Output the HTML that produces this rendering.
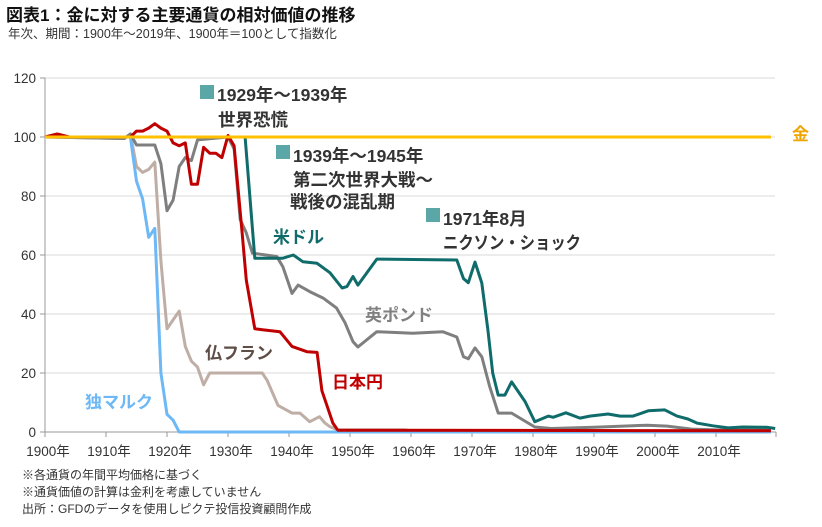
<!DOCTYPE html>
<html><head><meta charset="utf-8">
<style>
body{margin:0;background:#fff;width:822px;height:522px;overflow:hidden;font-family:"Liberation Sans","Noto Sans CJK JP",sans-serif;}
svg text{font-family:"Liberation Sans","Noto Sans CJK JP",sans-serif;}
</style></head>
<body>
<svg id="chart" width="822" height="522">
<text x="6" y="21" font-size="17" font-weight="bold" fill="#111">図表1：金に対する主要通貨の相対価値の推移</text>
<text x="8" y="38" font-size="12.5" fill="#333">年次、期間：1900年～2019年、1900年＝100として指数化</text>
<g id="grid"></g><g id="axes"></g><g id="series"></g>
<g>
<rect x="200" y="85" width="14" height="14" fill="#5ba6a6"/>
<text x="217" y="101" font-size="17.5" font-weight="bold" fill="#333">1929年～1939年</text>
<text x="218" y="126" font-size="17.5" font-weight="bold" fill="#333">世界恐慌</text></g>
<g>
<rect x="276" y="145" width="14" height="14" fill="#5ba6a6"/>
<text x="293" y="162" font-size="17.5" font-weight="bold" fill="#333">1939年～1945年</text>
<text x="293" y="186" font-size="17.5" font-weight="bold" fill="#333">第二次世界大戦～</text>
<text x="290" y="208" font-size="17.5" font-weight="bold" fill="#333">戦後の混乱期</text></g>
<g>
<rect x="426" y="208" width="14" height="14" fill="#5ba6a6"/>
<text x="443" y="225" font-size="17.5" font-weight="bold" fill="#333">1971年8月</text>
<text x="443" y="249" font-size="17.5" font-weight="bold" fill="#333" textLength="138" lengthAdjust="spacingAndGlyphs">ニクソン・ショック</text></g>
<text x="273" y="243" font-size="17" font-weight="bold" fill="#106b6b">米ドル</text>
<text x="365" y="321" font-size="17" font-weight="bold" fill="#808080">英ポンド</text>
<text x="205" y="359" font-size="17" font-weight="bold" fill="#5e4e46">仏フラン</text>
<text x="332" y="388" font-size="17" font-weight="bold" fill="#c00000">日本円</text>
<text x="85" y="408" font-size="17" font-weight="bold" fill="#6db8f5">独マルク</text>
<text x="792" y="140" font-size="17" font-weight="bold" fill="#f0a500">金</text>
<text x="22" y="479" font-size="12" fill="#333">※各通貨の年間平均価格に基づく</text>
<text x="22" y="496" font-size="12" fill="#333">※通貨価値の計算は金利を考慮していません</text>
<text x="22" y="513" font-size="12" fill="#333">出所：GFDのデータを使用しピクテ投信投資顧問作成</text>
</svg>
<script>
const yTicks=[0,20,40,60,80,100,120];
const xTickYears=[1900,1910,1920,1930,1940,1950,1960,1970,1980,1990,2000,2010];
const goldYears=[1900,2019];
const goldVals=[100,100];
const demYears=[1900,1914,1915,1916,1917,1918,1919,1920,1921,1922,2019];
const demVals=[100,100,85,79,66,69,20,6,4,0,0];
const frfYears=[1900,1913,1914,1915,1916,1917,1918,1919,1920,1921,1922,1923,1924,1925,1926,1927,1935.6,1936.4,1938.2,1940.5,1941.8,1943.4,1945,1945.9,1946.7,1948,1959,1960,2019];
const frfVals=[100,99.5,101,90,88,89,91.5,58,35,38,41,29,24,22,16,20,20,17.6,9,6.4,6.4,3.5,5.2,3,1.8,0.7,0.7,0.3,0.3];
const gbpYears=[1900,1913,1914,1915,1918,1919,1920,1921,1922,1923,1924,1925,1930,1931,1932,1933,1934,1938,1939,1940.5,1941.5,1943.4,1945.6,1947.8,1949.2,1950.5,1951.3,1954.4,1960.3,1965.2,1967.5,1968.6,1969.4,1970.5,1971.6,1972.9,1974.3,1976.5,1980.3,1983,1990,1998.7,2002,2006,2010,2019];
const gbpVals=[100,99.5,101,97.3,97.3,91,75,78.6,90,93,92,99,100,96,72,67.5,60.6,59.5,56,47,49.8,47.6,45.4,42,37,30.6,28.8,34,33.5,34,32.2,25.5,24.8,28.5,25.5,15.4,6.4,6.4,1.7,1.2,1.6,2.3,2,1,0.7,0.7];
const jpyYears=[1900,1902,1903,1904,1914,1915,1916,1917,1918,1919,1920,1921,1922,1923,1924,1925,1926,1927,1928,1929,1930,1931,1932.3,1933,1934.4,1935.8,1938.5,1940.5,1943,1944.6,1945.4,1947.2,1948,2019];
const jpyVals=[100,101,100.5,100,100,102,102,103,104.5,103,102,98,97,98,84,84,96.5,94.5,94.5,93,100.5,97,68,51.5,35,34.6,34,29,27.2,27,14,3,0.6,0.4];
const usdYears=[1900,1932.8,1934.4,1939,1940.7,1942.3,1944.6,1946.7,1948.7,1949.5,1950.5,1951.3,1954.4,1967.5,1968.6,1969.4,1970.5,1971.6,1972.6,1973.4,1974.3,1975.4,1976.5,1978.7,1980.3,1982.5,1983.3,1985.4,1987.7,1989.3,1992.3,1994.3,1996.4,1998.9,2001.6,2003.6,2005.4,2006.9,2009.5,2012,2014.4,2018.4,2019.7];
const usdVals=[100,100,58.9,58.9,60,57.7,57.2,54,48.8,49.3,52.7,49.8,58.6,58.3,52,50.6,57.6,50.5,34.6,20,12.5,12.5,17,10.3,3.5,5.4,5,6.5,4.7,5.4,6.1,5.4,5.4,7.2,7.5,5.4,4.4,3,2.1,1.4,1.7,1.6,1.2];

const NS="http://www.w3.org/2000/svg";
const x0=45,pxYear=6.1,y0=432,pxVal=2.95;
function xs(yr){return x0+(yr-1900)*pxYear;}
function ys(v){return y0-v*pxVal;}
const grid=document.getElementById('grid'),axes=document.getElementById('axes'),ser=document.getElementById('series');
yTicks.forEach(t=>{
  if(t>0){const l=document.createElementNS(NS,'line');
  l.setAttribute('x1',x0);l.setAttribute('x2',775);l.setAttribute('y1',ys(t));l.setAttribute('y2',ys(t));
  l.setAttribute('stroke','#d9d9d9');l.setAttribute('stroke-width','1');
  
  
  grid.appendChild(l);}
  const tk=document.createElementNS(NS,'line');
  tk.setAttribute('x1',x0-5);tk.setAttribute('x2',x0);tk.setAttribute('y1',ys(t));tk.setAttribute('y2',ys(t));tk.setAttribute('stroke','#999');
  
  
  axes.appendChild(tk);
  const tx=document.createElementNS(NS,'text');
  tx.setAttribute('x',36);tx.setAttribute('y',ys(t)+5);tx.setAttribute('text-anchor','end');tx.setAttribute('font-size','13.5');tx.setAttribute('fill','#333');
  tx.textContent=t;
  
  
  axes.appendChild(tx);
});
const ya=document.createElementNS(NS,'line');
ya.setAttribute('x1',x0);ya.setAttribute('x2',x0);ya.setAttribute('y1',ys(120));ya.setAttribute('y2',y0);ya.setAttribute('stroke','#999');


axes.appendChild(ya);
const xa=document.createElementNS(NS,'line');
xa.setAttribute('x1',x0);xa.setAttribute('x2',776);xa.setAttribute('y1',y0);xa.setAttribute('y2',y0);xa.setAttribute('stroke','#999');


axes.appendChild(xa);
xTickYears.forEach(yr=>{
  const tk=document.createElementNS(NS,'line');
  tk.setAttribute('x1',xs(yr));tk.setAttribute('x2',xs(yr));tk.setAttribute('y1',y0);tk.setAttribute('y2',y0+5);tk.setAttribute('stroke','#999');
  
  
  axes.appendChild(tk);
  const tx=document.createElementNS(NS,'text');
  tx.setAttribute('x',xs(yr)+3);tx.setAttribute('y',y0+24);tx.setAttribute('text-anchor','middle');tx.setAttribute('font-size','13.5');tx.setAttribute('fill','#333');
  tx.textContent=yr+'年';
  
  
  axes.appendChild(tx);
});
const endTk=document.createElementNS(NS,'line');
endTk.setAttribute('x1',776);endTk.setAttribute('x2',776);endTk.setAttribute('y1',y0);endTk.setAttribute('y2',y0+5);endTk.setAttribute('stroke','#999');


axes.appendChild(endTk);
function line(years,vals,color,name){
  const p=document.createElementNS(NS,'polyline');
  p.setAttribute('points',years.map((y,i)=>xs(y).toFixed(1)+','+ys(vals[i]).toFixed(1)).join(' '));
  p.setAttribute('fill','none');p.setAttribute('stroke',color);p.setAttribute('stroke-width','3');p.setAttribute('stroke-linejoin','round');
  
  
  ser.appendChild(p);
}
line(frfYears,frfVals,'#bfaea6','series-franc');
line(demYears,demVals,'#6db8f5','series-mark');
line(gbpYears,gbpVals,'#7f7f7f','series-pound');
line(jpyYears,jpyVals,'#c00000','series-yen');
line(usdYears,usdVals,'#106b6b','series-dollar');
line(goldYears,goldVals,'#ffc000','series-gold');
</script>
</body></html>
